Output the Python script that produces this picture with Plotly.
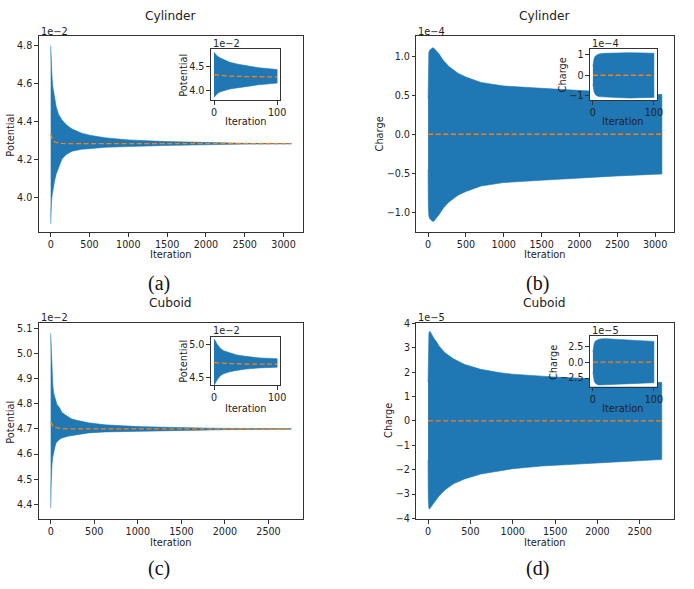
import plotly.graph_objects as go

W, H = 694, 589

# ---------------- data (values in displayed units) ----------------
# (a) Cylinder potential, x1e-2
cyl_pot_iter = [0, 2, 5, 10, 17, 25, 38, 50, 70, 100, 145, 200, 275, 400, 500, 700, 1000, 1500, 2000, 2500, 3100]
cyl_pot_upper = [4.80, 4.76, 4.72, 4.68, 4.636, 4.59, 4.55, 4.52, 4.48, 4.44, 4.41, 4.385, 4.362, 4.34, 4.33, 4.316, 4.305, 4.296, 4.29, 4.287, 4.286]
cyl_pot_lower = [3.865, 3.90, 3.94, 3.98, 4.01, 4.04, 4.065, 4.09, 4.125, 4.16, 4.205, 4.228, 4.246, 4.256, 4.259, 4.266, 4.270, 4.276, 4.280, 4.283, 4.284]
cyl_pot_mean_iter = [0, 10, 25, 50, 100, 200, 3100]
cyl_pot_mean = [4.335, 4.318, 4.305, 4.295, 4.288, 4.285, 4.285]

# (b) Cylinder charge, x1e-4
cyl_chg_iter = [0, 1, 2, 4, 7, 10, 20, 40, 60, 81, 100, 146, 200, 275, 400, 500, 700, 1000, 1500, 2000, 2500, 3090]
cyl_chg_upper = [0.45, 0.70, 0.82, 0.95, 1.02, 1.05, 1.08, 1.10, 1.11, 1.10, 1.08, 1.03, 0.95, 0.87, 0.78, 0.735, 0.665, 0.62, 0.59, 0.56, 0.535, 0.51]
cyl_chg_lower = [-0.45, -0.70, -0.82, -0.95, -1.02, -1.05, -1.08, -1.10, -1.12, -1.11, -1.09, -1.03, -0.95, -0.87, -0.78, -0.735, -0.665, -0.62, -0.59, -0.56, -0.535, -0.51]
cyl_chg_mean_iter = [0, 3090]
cyl_chg_mean = [0.0, 0.0]

# (c) Cuboid potential, x1e-2
cub_pot_iter = [0, 1, 5, 10, 15, 25, 36, 50, 63, 72, 100, 129, 200, 243, 300, 433, 623, 1003, 1345, 2000, 2760]
cub_pot_upper = [5.08, 5.07, 5.00, 4.94, 4.905, 4.87, 4.84, 4.82, 4.80, 4.797, 4.785, 4.765, 4.748, 4.739, 4.734, 4.724, 4.716, 4.709, 4.706, 4.702, 4.701]
cub_pot_lower = [4.385, 4.40, 4.47, 4.53, 4.56, 4.59, 4.61, 4.63, 4.645, 4.648, 4.658, 4.664, 4.671, 4.675, 4.678, 4.684, 4.688, 4.692, 4.694, 4.697, 4.699]
cub_pot_mean_iter = [0, 10, 25, 50, 100, 200, 2760]
cub_pot_mean = [4.728, 4.72, 4.712, 4.706, 4.702, 4.70, 4.70]

# (d) Cuboid charge, x1e-5
cub_chg_iter = [0, 1, 2, 4, 7, 10, 15, 23, 35, 50, 72, 100, 129, 200, 243, 300, 432, 622, 850, 1001, 1343, 1500, 2000, 2500, 2760]
cub_chg_upper = [1.6, 2.4, 2.9, 3.3, 3.5, 3.58, 3.65, 3.68, 3.60, 3.50, 3.38, 3.25, 3.08, 2.80, 2.68, 2.55, 2.32, 2.12, 1.98, 1.92, 1.84, 1.80, 1.72, 1.63, 1.58]
cub_chg_lower = [-1.6, -2.4, -2.9, -3.3, -3.5, -3.58, -3.62, -3.62, -3.55, -3.48, -3.36, -3.22, -3.08, -2.83, -2.72, -2.58, -2.38, -2.18, -2.04, -1.96, -1.85, -1.81, -1.72, -1.63, -1.58]
cub_chg_mean_iter = [0, 2760]
cub_chg_mean = [0.0, 0.0]

# ticks
pot_cyl_ticks = [4.0, 4.2, 4.4, 4.6, 4.8]
pot_cyl_inset_ticks = [4.0, 4.5]
chg_cyl_ticks = [-1.0, -0.5, 0.0, 0.5, 1.0]
chg_cyl_inset_ticks = [-1, 0, 1]
pot_cub_ticks = [4.4, 4.5, 4.6, 4.7, 4.8, 4.9, 5.0, 5.1]
pot_cub_inset_ticks = [4.5, 5.0]
chg_cub_ticks = [-4, -3, -2, -1, 0, 1, 2, 3, 4]
chg_cub_inset_ticks = [-2.5, 0.0, 2.5]
iter_ticks_cyl = [0, 500, 1000, 1500, 2000, 2500, 3000]
iter_ticks_cub = [0, 500, 1000, 1500, 2000, 2500]
iter_ticks_inset = [0, 100]

BLUE = "#1f77b4"
ORANGE = "#ff7f0e"
FONT = "DejaVu Sans"


def fmt(v, dec):
    s = f"{v:.{dec}f}"
    return s.replace("-", "\u2212")


def px_x(x):
    return x / W


def px_y(y):
    return 1 - y / H


fig = go.Figure()


def add_panel(idx, iters, up, lo, miter, mean, xmax=None):
    xs = [i for i in iters if xmax is None or i <= xmax]
    n = len(xs)
    poly_x = xs + xs[::-1]
    poly_y = up[:n] + lo[:n][::-1]
    ax = "" if idx == 1 else str(idx)
    fig.add_trace(go.Scatter(x=poly_x, y=poly_y, mode="lines", fill="toself",
                             fillcolor=BLUE, line=dict(width=0.6, color=BLUE),
                             xaxis="x" + ax, yaxis="y" + ax, showlegend=False,
                             hoverinfo="skip"))
    mx = [i for i in miter if xmax is None or i <= xmax]
    my = mean[:len(mx)]
    if xmax is not None and mx[-1] < xmax:
        mx = mx + [xmax]
        my = my + [mean[len(mx) - 2] if len(mean) > len(mx) - 1 else mean[-1]]
    fig.add_trace(go.Scatter(x=mx, y=my, mode="lines",
                             line=dict(color=ORANGE, width=1.3, dash="5px,2.6px"),
                             xaxis="x" + ax, yaxis="y" + ax, showlegend=False,
                             hoverinfo="skip"))


add_panel(1, cyl_pot_iter, cyl_pot_upper, cyl_pot_lower, cyl_pot_mean_iter, cyl_pot_mean)
add_panel(2, cyl_chg_iter, cyl_chg_upper, cyl_chg_lower, cyl_chg_mean_iter, cyl_chg_mean)
add_panel(3, cub_pot_iter, cub_pot_upper, cub_pot_lower, cub_pot_mean_iter, cub_pot_mean)
add_panel(4, cub_chg_iter, cub_chg_upper, cub_chg_lower, cub_chg_mean_iter, cub_chg_mean)
add_panel(5, cyl_pot_iter, cyl_pot_upper, cyl_pot_lower, cyl_pot_mean_iter, cyl_pot_mean, xmax=100)
add_panel(6, cyl_chg_iter, cyl_chg_upper, cyl_chg_lower, cyl_chg_mean_iter, cyl_chg_mean, xmax=100)
add_panel(7, cub_pot_iter, cub_pot_upper, cub_pot_lower, cub_pot_mean_iter, cub_pot_mean, xmax=100)
add_panel(8, cub_chg_iter, cub_chg_upper, cub_chg_lower, cub_chg_mean_iter, cub_chg_mean, xmax=100)


def axis(domain_px, rng, ticks, dec, anchor, horizontal):
    if horizontal:
        dom = [px_x(domain_px[0]), px_x(domain_px[1])]
    else:
        dom = [px_y(domain_px[1]), px_y(domain_px[0])]
    return dict(domain=dom, range=rng, tickvals=ticks,
                ticktext=[fmt(t, dec) for t in ticks], anchor=anchor,
                showline=True, mirror=True, linecolor="#333", linewidth=0.9,
                ticks="outside", ticklen=3.5, tickwidth=0.9, tickcolor="#333",
                showgrid=False, zeroline=False,
                tickfont=dict(family=FONT, size=9.6, color="#222"))


# main axes pixel boxes
A = dict(x=(39, 306), y=(32, 231))
B = dict(x=(420, 679.5), y=(32, 231))
C = dict(x=(39, 306), y=(323.3, 523))
D = dict(x=(420, 679.5), y=(323.3, 523))
IA = dict(x=(212.7, 282.7), y=(45, 96.7))
IB = dict(x=(595, 662.7), y=(45, 96.7))
IC = dict(x=(212.7, 282.7), y=(337.7, 386.7))
ID = dict(x=(595, 662.7), y=(336.7, 388.3))

layout = dict(width=W, height=H, margin=dict(l=0, r=0, t=0, b=0),
              paper_bgcolor="white", plot_bgcolor="white", showlegend=False)

specs = [
    (1, A, [-155, 3255], iter_ticks_cyl, [3.821, 4.848], pot_cyl_ticks, 1),
    (2, B, [-155, 3245], iter_ticks_cyl, [-1.256, 1.256], chg_cyl_ticks, 1),
    (3, C, [-138, 2900], iter_ticks_cub, [4.341, 5.122], pot_cub_ticks, 1),
    (4, D, [-138, 2900], iter_ticks_cub, [-4.03, 4.03], chg_cub_ticks, 0),
    (5, IA, [-5, 105], iter_ticks_inset, [3.81, 4.86], pot_cyl_inset_ticks, 1),
    (6, IB, [-5, 105], iter_ticks_inset, [-1.22, 1.28], chg_cyl_inset_ticks, 0),
    (7, IC, [-5, 105], iter_ticks_inset, [4.39, 5.11], pot_cub_inset_ticks, 1),
    (8, ID, [-5, 105], iter_ticks_inset, [-3.85, 4.1], chg_cub_inset_ticks, 1),
]
for idx, box, xr, xt, yr, yt, ydec in specs:
    s = "" if idx == 1 else str(idx)
    layout["xaxis" + s] = axis(box["x"], xr, xt, 0, "y" + s, True)
    layout["yaxis" + s] = axis(box["y"], yr, yt, ydec, "x" + s, False)

fig.update_layout(**layout)

ann = []


def text(x, y, t, size=9.8, xanchor="center", angle=0, family=FONT, color="#222"):
    ann.append(dict(x=px_x(x), y=px_y(y), xref="paper", yref="paper", text=t,
                    showarrow=False, xanchor=xanchor, yanchor="middle",
                    textangle=angle, font=dict(family=family, size=size, color=color)))


# titles
text(172, 11, "Cylinder", size=12.2)
text(549.5, 11, "Cylinder", size=12.2)
text(172, 303.5, "Cuboid", size=12.2)
text(549.5, 303.5, "Cuboid", size=12.2)
# x labels
text(172.5, 254, "Iteration")
text(550, 254, "Iteration")
text(172.5, 546.5, "Iteration")
text(550, 546.5, "Iteration")
# y labels
text(11, 132, "Potential", angle=-90)
text(383, 131, "Charge", angle=-90)
text(11, 424, "Potential", angle=-90)
text(392.5, 423, "Charge", angle=-90)
# offsets
text(39, 26.5, "1e\u22122", xanchor="left")
text(420, 26.5, "1e\u22124", xanchor="left")
text(39, 318, "1e\u22122", xanchor="left")
text(420, 318, "1e\u22125", xanchor="left")
# inset labels
text(247.7, 118.5, "Iteration")
text(628.8, 118.5, "Iteration")
text(247.7, 410, "Iteration")
text(628.8, 410, "Iteration")
text(185, 71.5, "Potential", angle=-90)
text(567.5, 71, "Charge", angle=-90)
text(185, 362.5, "Potential", angle=-90)
text(558.5, 363.5, "Charge", angle=-90)
text(212.7, 39.5, "1e\u22122", xanchor="left")
text(595, 39.5, "1e\u22124", xanchor="left")
text(212.7, 331.5, "1e\u22122", xanchor="left")
text(595, 331.5, "1e\u22125", xanchor="left")
# captions
for cx, cy, lab in [(160, 283, "(a)"), (542, 283, "(b)"), (160, 573, "(c)"), (542, 573, "(d)")]:
    text(cx, cy, lab, size=20, family="Liberation Serif", color="#111")

fig.update_layout(annotations=ann)
fig.write_html("out.html")
